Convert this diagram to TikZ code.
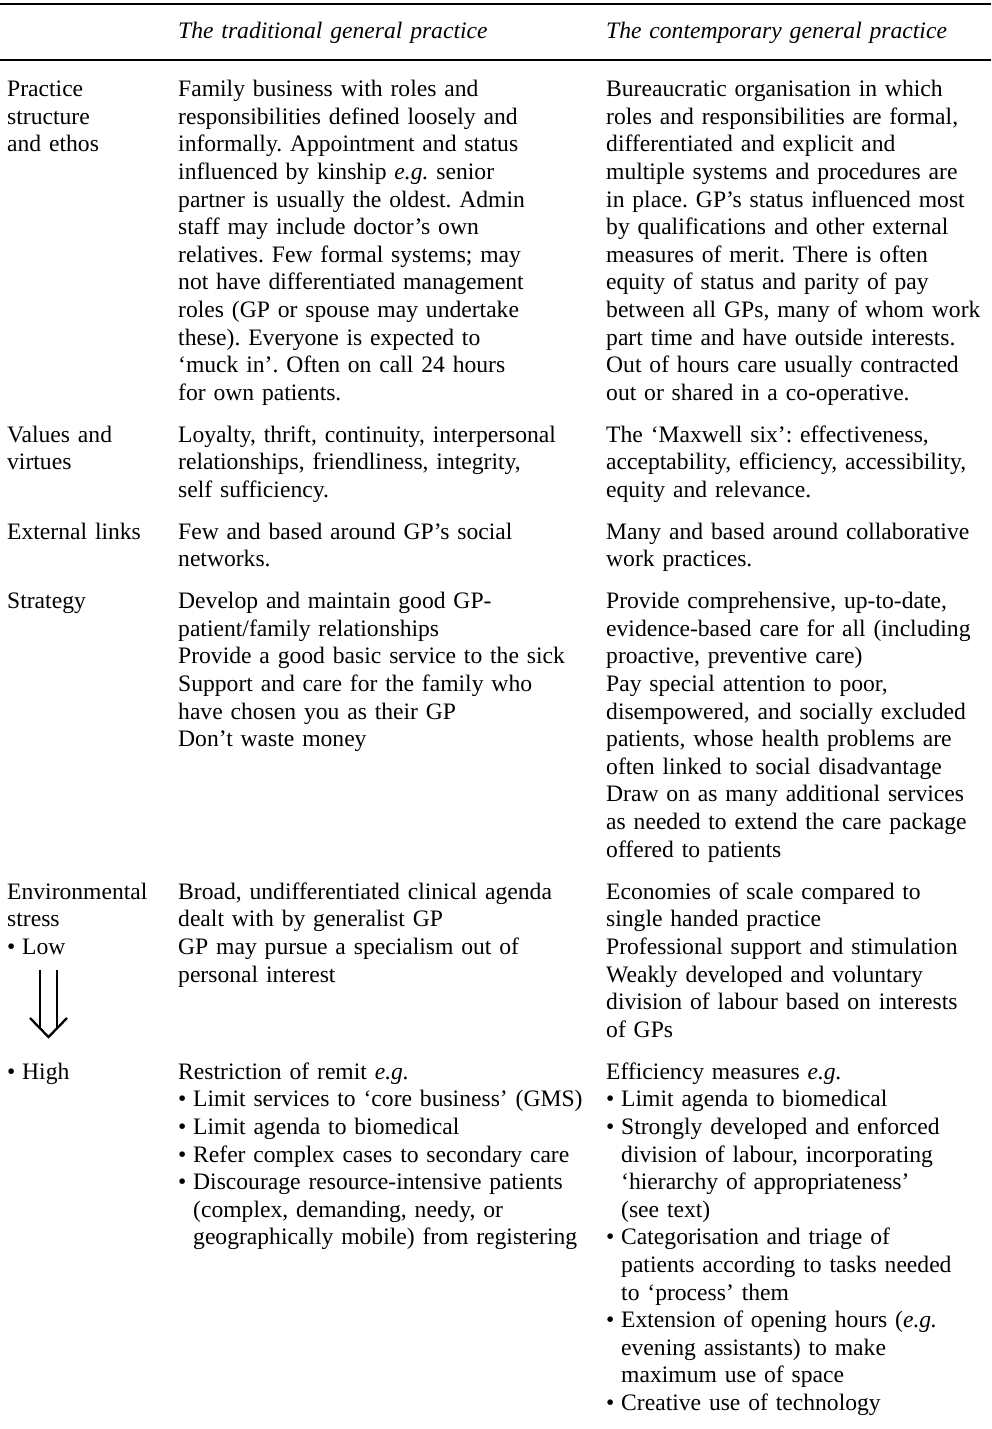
\documentclass[tikz,border=0pt]{standalone}
\usepackage{fontspec}
\setmainfont{Liberation Serif}
\newcommand\cellfont{\fontsize{23.6}{27.6}\selectfont\frenchspacing}
\newcommand\bul{\makebox[15pt][l]{\textbullet}}
\newcommand\hang{\hspace*{15pt}}
\tikzset{
  cell/.style={anchor=north west, inner sep=0pt, align=left, text width=#1,
    font=\cellfont, execute at begin node=\strut},
  cell/.default=430pt,
  head/.style={cell, font=\cellfont\itshape},
}

\begin{document}
\begin{tikzpicture}[x=1pt,y=-1pt]
  \useasboundingbox (0,0) rectangle (991,1429);
  % rules
  \draw[line width=2pt] (0,4) -- (991,4);
  \draw[line width=1.3pt] (0,60) -- (991,60);
  % header
  \node[head] (htrad) at (178,18.7) {The traditional general practice};
  \node[head] (hcont) at (606,18.7) {The contemporary general practice};
  % practice structure
  \node[cell=170pt] (lstruct) at (7,77.2) {Practice\\ structure\\ and ethos};
  \node[cell] (tstruct) at (178,77.2) {Family business with roles and\\
    responsibilities defined loosely and\\
    informally. Appointment and status\\
    influenced by kinship \textit{e.g.} senior\\
    partner is usually the oldest. Admin\\
    staff may include doctor's own\\
    relatives. Few formal systems; may\\
    not have differentiated management\\
    roles (GP or spouse may undertake\\
    these). Everyone is expected to\\
    `muck in'. Often on call 24 hours\\
    for own patients.};
  \node[cell] (cstruct) at (606,77.2) {Bureaucratic organisation in which\\
    roles and responsibilities are formal,\\
    differentiated and explicit and\\
    multiple systems and procedures are\\
    in place. GP's status influenced most\\
    by qualifications and other external\\
    measures of merit. There is often\\
    equity of status and parity of pay\\
    between all GPs, many of whom work\\
    part time and have outside interests.\\
    Out of hours care usually contracted\\
    out or shared in a co-operative.};
  % values
  \node[cell=170pt] (lvalues) at (7,422.7) {Values and\\ virtues};
  \node[cell] (tvalues) at (178,422.7) {Loyalty, thrift, continuity, interpersonal\\
    relationships, friendliness, integrity,\\
    self sufficiency.};
  \node[cell] (cvalues) at (606,422.7) {The `Maxwell six': effectiveness,\\
    acceptability, efficiency, accessibility,\\
    equity and relevance.};
  % external links
  \node[cell=170pt] (llinks) at (7,519.7) {External links};
  \node[cell] (tlinks) at (178,519.7) {Few and based around GP's social\\ networks.};
  \node[cell] (clinks) at (606,519.7) {Many and based around collaborative\\ work practices.};
  % strategy
  \node[cell=170pt] (lstrat) at (7,589.2) {Strategy};
  \node[cell] (tstrat) at (178,589.2) {Develop and maintain good GP-\\
    patient/family relationships\\
    Provide a good basic service to the sick\\
    Support and care for the family who\\
    have chosen you as their GP\\
    Don't waste money};
  \node[cell] (cstrat) at (606,589.2) {Provide comprehensive, up-to-date,\\
    evidence-based care for all (including\\
    proactive, preventive care)\\
    Pay special attention to poor,\\
    disempowered, and socially excluded\\
    patients, whose health problems are\\
    often linked to social disadvantage\\
    Draw on as many additional services\\
    as needed to extend the care package\\
    offered to patients};
  % environmental stress, low
  \node[cell=170pt] (llow) at (7,879.7) {Environmental\\ stress\\ \bul Low};
  \node[cell] (tlow) at (178,879.7) {Broad, undifferentiated clinical agenda\\
    dealt with by generalist GP\\
    GP may pursue a specialism out of\\
    personal interest};
  \node[cell] (clow) at (606,879.7) {Economies of scale compared to\\
    single handed practice\\
    Professional support and stimulation\\
    Weakly developed and voluntary\\
    division of labour based on interests\\
    of GPs};
  % environmental stress, high
  \node[cell=170pt] (lhigh) at (7,1059.7) {\bul High};
  \node[cell] (thigh) at (178,1059.7) {Restriction of remit \textit{e.g.}\\
    \bul Limit services to `core business' (GMS)\\
    \bul Limit agenda to biomedical\\
    \bul Refer complex cases to secondary care\\
    \bul Discourage resource-intensive patients\\
    \hang(complex, demanding, needy, or\\
    \hang geographically mobile) from registering};
  \node[cell] (chigh) at (606,1059.7) {Efficiency measures \textit{e.g.}\\
    \bul Limit agenda to biomedical\\
    \bul Strongly developed and enforced\\
    \hang division of labour, incorporating\\
    \hang`hierarchy of appropriateness'\\
    \hang(see text)\\
    \bul Categorisation and triage of\\
    \hang patients according to tasks needed\\
    \hang to `process' them\\
    \bul Extension of opening hours (\textit{e.g.}\\
    \hang evening assistants) to make\\
    \hang maximum use of space\\
    \bul Creative use of technology};
  % low to high arrow
  \draw[line width=2.3pt] (40,970) -- (40,1029) (57,970) -- (57,1029);
  \draw[line width=2.3pt, line join=miter] (30,1018) -- (48.5,1037) -- (67,1018);
\end{tikzpicture}
\end{document}
